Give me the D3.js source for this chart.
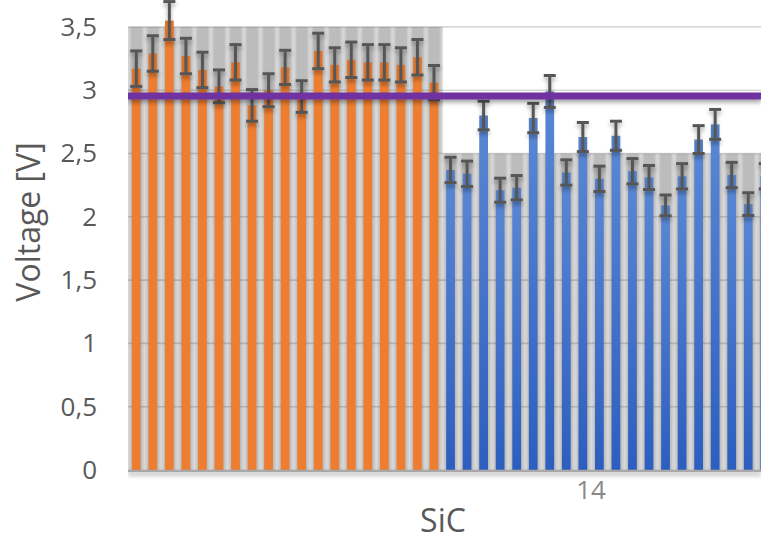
<!DOCTYPE html>
<html>
<head>
<meta charset="utf-8">
<script src="https://cdn.jsdelivr.net/npm/d3@7/dist/d3.min.js"></script>
<style>
  html, body { margin: 0; padding: 0; background: #fff; }
  svg { display: block; }
  text { font-family: "Open Sans", "DejaVu Sans", sans-serif; }
</style>
</head>
<body>
<svg id="chart" width="761" height="538"></svg>
<script>
// Measured voltages per sample (V) with their error margins
const orangeValues = [3.17, 3.29, 3.55, 3.27, 3.16, 3.03, 3.22, 2.88, 3.00, 3.18, 2.95, 3.31, 3.20, 3.24, 3.22, 3.22, 3.20, 3.26, 3.06];
const orangeErrors = [0.14, 0.14, 0.15, 0.14, 0.14, 0.13, 0.14, 0.125, 0.13, 0.135, 0.125, 0.14, 0.135, 0.14, 0.14, 0.14, 0.135, 0.14, 0.135];
const blueValues = [2.37, 2.34, 2.80, 2.21, 2.23, 2.78, 2.99, 2.35, 2.63, 2.30, 2.64, 2.36, 2.31, 2.09, 2.32, 2.61, 2.73, 2.33, 2.10, 2.32];
const blueErrors = [0.10, 0.10, 0.113, 0.095, 0.096, 0.116, 0.126, 0.10, 0.115, 0.10, 0.115, 0.10, 0.095, 0.082, 0.10, 0.11, 0.118, 0.10, 0.09, 0.10];
// Background band level for each group
const orangeBand = 3.5;
const blueBand = 2.5;
// Horizontal reference voltage
const referenceVoltage = 2.955;
// Y tick values and group labels on the category axis
const yTicks = [0, 0.5, 1, 1.5, 2, 2.5, 3, 3.5];
const groups = [{ name: "14", first: 19, last: 36 }];
const xTitle = "SiC";
const yTitle = "Voltage [V]";

const bars = [
  ...orangeValues.map((v, i) => ({ v, e: orangeErrors[i], band: orangeBand, kind: "orange" })),
  ...blueValues.map((v, i) => ({ v, e: blueErrors[i], band: blueBand, kind: "blue" }))
];

const W = 761, H = 538;
const plotLeft = 128, step = 16.54;
const svg = d3.select("#chart");

const x = d3.scaleBand()
  .domain(d3.range(bars.length))
  .range([plotLeft, plotLeft + step * bars.length])
  .padding(0);
const y = d3.scaleLinear().domain([0, 3.5]).range([470, 26.9]);

const defs = svg.append("defs");
const grayGrad = defs.append("linearGradient").attr("id", "grayStripe")
  .attr("x1", "0").attr("x2", "1").attr("y1", "0").attr("y2", "0");
[["0%", "#d8d8d8"], ["10%", "#d0d0d0"], ["22%", "#bcbcbc"], ["78%", "#bcbcbc"], ["90%", "#d0d0d0"], ["100%", "#d8d8d8"]]
  .forEach(([o, c]) => grayGrad.append("stop").attr("offset", o).attr("stop-color", c));
const blueGrad = defs.append("linearGradient").attr("id", "blueBar")
  .attr("x1", "0").attr("x2", "0").attr("y1", "0").attr("y2", "1");
blueGrad.append("stop").attr("offset", "0%").attr("stop-color", "#5b88d4");
blueGrad.append("stop").attr("offset", "100%").attr("stop-color", "#2d5ebe");
const shadow = defs.append("filter").attr("id", "shadow")
  .attr("filterUnits", "userSpaceOnUse")
  .attr("x", 0).attr("y", 0).attr("width", W).attr("height", H);
shadow.append("feDropShadow").attr("dx", 0).attr("dy", 3).attr("stdDeviation", 2)
  .attr("flood-color", "#000").attr("flood-opacity", 0.35);

const clip = defs.append("clipPath").attr("id", "plotClip");
clip.append("rect").attr("x", plotLeft).attr("y", 0).attr("width", W - plotLeft).attr("height", H);

const plot = svg.append("g").attr("clip-path", "url(#plotClip)");

// Gray background stripes
plot.append("g").selectAll("rect").data(bars).join("rect")
  .attr("x", (d, i) => x(i))
  .attr("width", x.bandwidth() + 0.5)
  .attr("y", d => y(d.band))
  .attr("height", d => y(0) - y(d.band))
  .attr("fill", "url(#grayStripe)");

// Horizontal gridlines
plot.append("g").selectAll("line").data(yTicks.filter(t => t > 0)).join("line")
  .attr("x1", plotLeft).attr("x2", W)
  .attr("y1", d => y(d)).attr("y2", d => y(d))
  .attr("stroke", "#000").attr("stroke-opacity", 0.15).attr("stroke-width", 1.6);

// Coloured bars
const barW = x.bandwidth() * 0.53;
plot.append("g").selectAll("rect").data(bars).join("rect")
  .attr("x", (d, i) => x(i) + (x.bandwidth() - barW) / 2)
  .attr("width", barW)
  .attr("y", d => y(d.v))
  .attr("height", d => y(0) - y(d.v))
  .attr("fill", d => d.kind === "orange" ? "#ed7d31" : "url(#blueBar)");

// Baseline
plot.append("line")
  .attr("x1", plotLeft).attr("x2", W).attr("y1", y(0) + 1).attr("y2", y(0) + 1)
  .attr("stroke", "#a8a8a8").attr("stroke-width", 2.5).attr("filter", "url(#shadow)");

// Error bars
const capW = 12;
const eb = plot.append("g").attr("stroke", "#575757").attr("stroke-width", 3)
  .attr("filter", "url(#shadow)")
  .selectAll("g").data(bars).join("g")
  .attr("transform", (d, i) => `translate(${x(i) + x.bandwidth() / 2},0)`);
eb.append("line").attr("x1", 0).attr("x2", 0)
  .attr("y1", d => y(d.v + d.e)).attr("y2", d => y(d.v - d.e));
eb.append("line").attr("x1", -capW / 2).attr("x2", capW / 2)
  .attr("y1", d => y(d.v + d.e)).attr("y2", d => y(d.v + d.e));
eb.append("line").attr("x1", -capW / 2).attr("x2", capW / 2)
  .attr("y1", d => y(d.v - d.e)).attr("y2", d => y(d.v - d.e));

// Reference voltage line
plot.append("line")
  .attr("x1", plotLeft).attr("x2", W)
  .attr("y1", y(referenceVoltage)).attr("y2", y(referenceVoltage))
  .attr("stroke", "#7030a0").attr("stroke-width", 7).attr("filter", "url(#shadow)");

// Y axis labels
const locale = d3.formatLocale({ decimal: ",", thousands: ".", grouping: [3], currency: ["", ""] });
const fmt = locale.format("~g");
const yAxis = svg.append("g").attr("transform", `translate(${plotLeft},0)`)
  .call(d3.axisLeft(y).tickValues(yTicks).tickFormat(fmt).tickSize(0).tickPadding(31));
yAxis.select(".domain").remove();
yAxis.selectAll("text").attr("fill", "#595959").attr("font-size", 26)
  .style("font-family", "'Open Sans', sans-serif");

// Category group labels
svg.append("g").selectAll("text").data(groups).join("text")
  .attr("x", d => (x(d.first) + x(d.last) + x.bandwidth()) / 2)
  .attr("y", 499)
  .attr("text-anchor", "middle")
  .attr("fill", "#8a8a8a").attr("font-size", 26)
  .text(d => d.name);

// Axis titles
svg.append("text").attr("x", 443).attr("y", 532).attr("text-anchor", "middle")
  .attr("fill", "#595959").attr("font-size", 32).text(xTitle);
svg.append("text").attr("transform", "translate(40,222) rotate(-90)")
  .attr("text-anchor", "middle").attr("fill", "#595959").attr("font-size", 32).text(yTitle);
</script>
</body>
</html>
